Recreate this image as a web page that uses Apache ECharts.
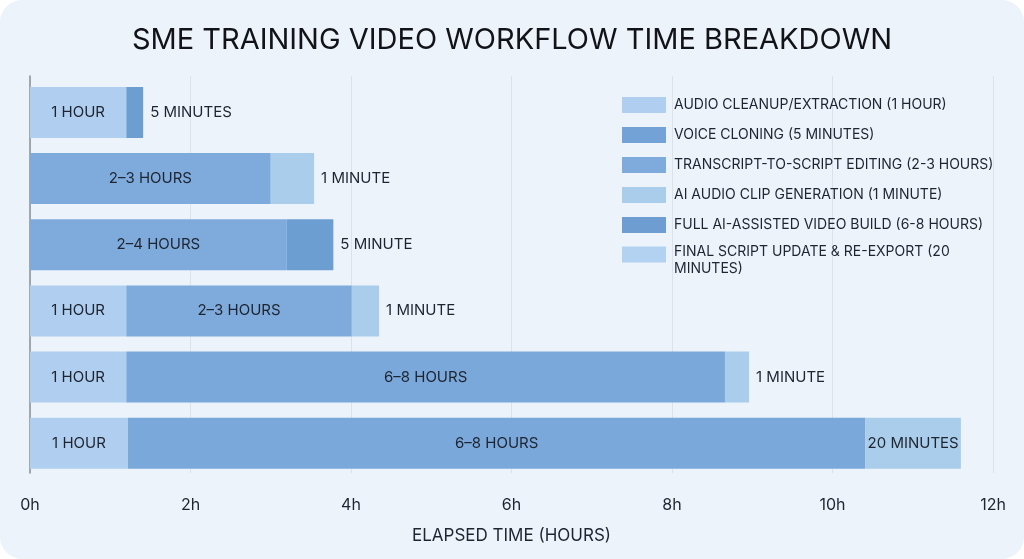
<!DOCTYPE html>
<html><head><meta charset="utf-8">
<script src="https://cdn.jsdelivr.net/npm/echarts@6/dist/echarts.min.js"></script>
<style>
html,body{margin:0;padding:0;background:#ffffff;}
#c{width:1024px;height:559px;background:#edf3fb;border-radius:22px;overflow:hidden;}
</style></head>
<body><div id="c"></div>
<script>
const title = 'SME TRAINING VIDEO WORKFLOW TIME BREAKDOWN';
const axisName = 'ELAPSED TIME (HOURS)';
const categories = ['Workflow 1','Workflow 2','Workflow 3','Workflow 4','Workflow 5','Workflow 6'];
const xTicks = ['0h','2h','4h','6h','8h','10h','12h'];
const legendNames = [
  'AUDIO CLEANUP/EXTRACTION (1 HOUR)',
  'VOICE CLONING (5 MINUTES)',
  'TRANSCRIPT-TO-SCRIPT EDITING (2-3 HOURS)',
  'AI AUDIO CLIP GENERATION (1 MINUTE)',
  'FULL AI-ASSISTED VIDEO BUILD (6-8 HOURS)',
  'FINAL SCRIPT UPDATE & RE-EXPORT (20 MINUTES)'
];
// segment values (hours, as drawn) per row position
const seg1Values = [1.2, 3.0, 3.2, 1.2, 1.2, 1.22];
const seg1Labels = ['1 HOUR','2–3 HOURS','2–4 HOURS','1 HOUR','1 HOUR','1 HOUR'];
const seg1Kind   = [0, 2, 2, 0, 0, 0];
const seg2Values = [0.21, 0.54, 0.58, 2.81, 7.46, 9.19];
const seg2Labels = ['5 MINUTES','1 MINUTE','5 MINUTE','2–3 HOURS','6–8 HOURS','6–8 HOURS'];
const seg2Kind   = [1, 3, 1, 2, 4, 4];
const seg2Outside= [true, true, true, false, false, false];
const seg3Values = [null, null, null, 0.34, 0.30, 1.19];
const seg3Labels = ['','','','1 MINUTE','1 MINUTE','20 MINUTES'];
const seg3Kind   = [null, null, null, 3, 3, 5];
const seg3Outside= [false, false, false, true, true, false];

const kindColors = ['#b0cff0','#6d9ed2','#7eabdc','#a9cdea','#7aa8db','#a9cdea'];
const legendColors = ['#b0cff0','#72a2d6','#7eabdc','#a9cdea','#6d9dd1','#b3d2f2'];

const FONT = 'Inter';
const labelStyle = {color:'#1f2530', fontSize:15, fontFamily:FONT};

function buildData(vals, labels, kinds, outside){
  return vals.map((v,i)=>{
    if(v==null) return {value:null};
    const o = outside && outside[i];
    return {
      value: v,
      itemStyle: {color: kindColors[kinds[i]]},
      label: Object.assign({show:true, formatter: labels[i], position: o ? 'right' : 'inside', distance: 7}, labelStyle)
    };
  });
}

const series = [];
legendNames.forEach((n,i)=>{
  series.push({name:n, type:'bar', data:[], itemStyle:{color:legendColors[i]}});
});
[[seg1Values,seg1Labels,seg1Kind,null],[seg2Values,seg2Labels,seg2Kind,seg2Outside],[seg3Values,seg3Labels,seg3Kind,seg3Outside]].forEach((s,k)=>{
  series.push({
    name:'seg'+k, type:'bar', stack:'t', barWidth:51,
    data: buildData(s[0],s[1],s[2],s[3]),
    emphasis:{disabled:true}, silent:true
  });
});

const legendCommon = {
  orient:'vertical', left:617, itemWidth:44, itemHeight:16, itemGap:12, icon:'rect', selectedMode:false
};

const chart = echarts.init(document.getElementById('c'), null, {renderer:'canvas'});
chart.setOption({
  backgroundColor:'transparent',
  animation:false,
  title:{text:title, left:'center', top:21, textStyle:{fontFamily:FONT, fontSize:29, fontWeight:'normal', color:'#111318'}},
  legend:[
    Object.assign({}, legendCommon, {
      data: legendNames.slice(0,5), top:91,
      textStyle:{fontFamily:FONT, fontSize:14, lineHeight:18, color:'#1f2530', padding:[0,0,0,3]}
    }),
    Object.assign({}, legendCommon, {
      data: legendNames.slice(5), top:227,
      textStyle:{fontFamily:FONT, fontSize:14, lineHeight:17, color:'#1f2530', padding:[0,0,0,3],
        rich:{
          s:{fontSize:4, lineHeight:11, fontFamily:FONT},
          t:{fontSize:14, lineHeight:17, fontFamily:FONT, color:'#1f2530'}
        }
      },
      formatter: n => '{s| }\n{t|FINAL SCRIPT UPDATE & RE-EXPORT (20}\n{t|MINUTES)}'
    })
  ],
  grid:{left:30, right:31, top:76, bottom:86, containLabel:false},
  xAxis:{
    type:'value', min:0, max:12, interval:2,
    name: axisName, nameLocation:'middle', nameGap:54,
    nameTextStyle:{fontFamily:FONT, fontSize:17, color:'#1f2530'},
    axisLine:{show:false}, axisTick:{show:false},
    axisLabel:{fontFamily:FONT, fontSize:16, color:'#1f2530', margin:24, formatter: v => xTicks[v/2]},
    splitLine:{show:true, lineStyle:{color:'#dbe2ea', width:1}}
  },
  yAxis:{
    type:'category', data:categories, inverse:true,
    axisLine:{show:true, lineStyle:{color:'#8a8f96', width:1.5}},
    axisTick:{show:false}, axisLabel:{show:false}
  },
  series: series
});
</script></body></html>
